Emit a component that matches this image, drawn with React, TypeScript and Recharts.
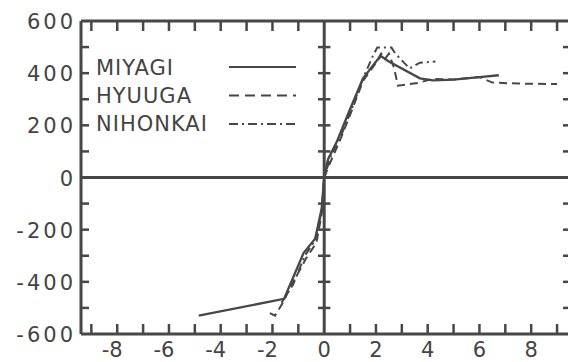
import React from 'react';
import { LineChart, Line, XAxis, YAxis, ReferenceLine } from 'recharts';

const FONT = '"DejaVu Sans", sans-serif';
const INK = '#474747';

// axis ticks
const xTicks = [-9, -8, -7, -6, -5, -4, -3, -2, -1, 0, 1, 2, 3, 4, 5, 6, 7, 8, 9];
const xLabels = [-8, -6, -4, -2, 0, 2, 4, 6, 8];
const yTicks = [-600, -500, -400, -300, -200, -100, 0, 100, 200, 300, 400, 500, 600];
const yLabels = [-600, -400, -200, 0, 200, 400, 600];

// series
const miyagi = [
  { x: -4.85, y: -530 }, { x: -1.55, y: -465 }, { x: -0.8, y: -290 }, { x: -0.35, y: -235 },
  { x: -0.1, y: -120 }, { x: 0, y: 0 }, { x: 0.15, y: 70 }, { x: 0.5, y: 140 },
  { x: 0.95, y: 250 }, { x: 1.5, y: 380 }, { x: 2.05, y: 450 }, { x: 2.2, y: 465 },
  { x: 2.5, y: 445 }, { x: 3.7, y: 380 }, { x: 4.2, y: 372 }, { x: 5.0, y: 375 },
  { x: 6.0, y: 385 }, { x: 6.75, y: 392 },
];

const hyuuga = [
  { x: -2.1, y: -520 }, { x: -1.9, y: -530 }, { x: -1.6, y: -480 }, { x: -1.3, y: -420 },
  { x: -0.7, y: -310 }, { x: -0.3, y: -250 }, { x: -0.08, y: -130 }, { x: 0, y: 0 },
  { x: 0.2, y: 50 }, { x: 0.6, y: 140 }, { x: 1.0, y: 240 }, { x: 1.5, y: 370 },
  { x: 2.0, y: 440 }, { x: 2.2, y: 475 }, { x: 2.35, y: 455 }, { x: 2.5, y: 475 },
  { x: 2.7, y: 420 }, { x: 2.85, y: 352 }, { x: 3.6, y: 362 }, { x: 4.2, y: 378 },
  { x: 5.0, y: 376 }, { x: 6.0, y: 385 }, { x: 6.5, y: 364 }, { x: 7.5, y: 360 },
  { x: 9.0, y: 358 },
];

const nihonkai = [
  { x: -1.65, y: -480 }, { x: -1.2, y: -410 }, { x: -0.75, y: -300 }, { x: -0.35, y: -240 },
  { x: -0.1, y: -130 }, { x: 0, y: 0 }, { x: 0.25, y: 80 }, { x: 0.65, y: 160 },
  { x: 1.05, y: 260 }, { x: 1.5, y: 380 }, { x: 1.9, y: 470 }, { x: 2.05, y: 498 },
  { x: 2.6, y: 498 }, { x: 2.75, y: 475 }, { x: 3.3, y: 418 }, { x: 3.7, y: 440 },
  { x: 4.3, y: 445 },
];

const legendItems = [
  { name: 'MIYAGI', dash: undefined },
  { name: 'HYUUGA', dash: '10 6' },
  { name: 'NIHONKAI', dash: '9 4 2 4' },
];

const textStyle = { fontFamily: FONT, fontSize: 21, fill: '#444', letterSpacing: 3 };

const BottomTick = (props: any) => {
  const { x, y, payload } = props;
  const v = payload.value;
  return (
    <g>
      {v !== 0 && <line x1={x} x2={x} y1={y} y2={y - 10} stroke={INK} strokeWidth={2.5} />}
      {xLabels.includes(v) && (
        <text x={x} y={y + 23} dx={v < 0 ? -5 : 0} textAnchor="middle" style={{ ...textStyle, letterSpacing: 0 }}>
          {v < 0 ? `-${-v}` : v}
        </text>
      )}
    </g>
  );
};

const TopTick = (props: any) => {
  const { x, y, payload } = props;
  if (payload.value === 0) return <g />;
  return <line x1={x} x2={x} y1={y} y2={y + 10} stroke={INK} strokeWidth={2.5} />;
};

const LeftTick = (props: any) => {
  const { x, y, payload } = props;
  const v = payload.value;
  return (
    <g>
      {Math.abs(v) !== 600 && v !== 0 && <line x1={x} x2={x + 8} y1={y} y2={y} stroke={INK} strokeWidth={2.5} />}
      {yLabels.includes(v) && (
        <text x={x - 5} y={y + 8} textAnchor="end" style={textStyle}>
          {v < 0 ? `-${-v}` : v}
        </text>
      )}
    </g>
  );
};

const RightTick = (props: any) => {
  const { x, y, payload } = props;
  if (Math.abs(payload.value) === 600 || payload.value === 0) return <g />;
  return <line x1={x} x2={x - 7} y1={y} y2={y} stroke={INK} strokeWidth={2.5} />;
};

const Legend = () => (
  <svg width={568} height={362} style={{ position: 'absolute', left: 0, top: 0, pointerEvents: 'none' }}>
    {legendItems.map((it, i) => (
      <g key={it.name}>
        <text x={96} y={75 + i * 28} style={{ ...textStyle, letterSpacing: 1 }}>
          {it.name}
        </text>
        <line
          x1={229}
          x2={296}
          y1={67 + i * 28.5}
          y2={67 + i * 28.5}
          stroke={INK}
          strokeWidth={2.2}
          strokeDasharray={it.dash}
        />
      </g>
    ))}
  </svg>
);

export default function App() {
  return (
    <div style={{ position: 'absolute', left: 0, top: 0, width: 568, height: 362, overflow: 'hidden', background: '#fff' }}>
      <LineChart width={600} height={362} margin={{ top: 0, right: 0, bottom: 0, left: 0 }}>
        <XAxis
          xAxisId={0}
          type="number"
          dataKey="x"
          domain={[-9.4, 9.5]}
          allowDataOverflow
          ticks={xTicks}
          interval={0}
          height={28}
          tickSize={0}
          tickMargin={0}
          tickLine={false}
          tick={<BottomTick />}
          axisLine={{ stroke: INK, strokeWidth: 3 }}
        />
        <XAxis
          xAxisId="top"
          orientation="top"
          type="number"
          dataKey="x"
          domain={[-9.4, 9.5]}
          allowDataOverflow
          ticks={xTicks}
          interval={0}
          height={21}
          tickSize={0}
          tickMargin={0}
          tickLine={false}
          tick={<TopTick />}
          axisLine={{ stroke: INK, strokeWidth: 3 }}
        />
        <YAxis
          yAxisId={0}
          type="number"
          domain={[-600, 600]}
          allowDataOverflow
          ticks={yTicks}
          interval={0}
          width={81}
          tickSize={0}
          tickMargin={0}
          tickLine={false}
          tick={<LeftTick />}
          axisLine={{ stroke: INK, strokeWidth: 3 }}
        />
        <YAxis
          yAxisId="right"
          orientation="right"
          type="number"
          domain={[-600, 600]}
          allowDataOverflow
          ticks={yTicks}
          interval={0}
          width={30}
          tickSize={0}
          tickMargin={0}
          tickLine={false}
          tick={<RightTick />}
          axisLine={{ stroke: INK, strokeWidth: 3 }}
        />
        <ReferenceLine x={0} stroke={INK} strokeWidth={3} />
        <ReferenceLine y={0} stroke={INK} strokeWidth={3} />
        {yTicks
          .filter((v) => v !== 0 && Math.abs(v) !== 600)
          .map((v) => (
            <ReferenceLine
              key={v}
              segment={[{ x: -0.24, y: v }, { x: 0.24, y: v }]}
              stroke={INK}
              strokeWidth={2.5}
            />
          ))}
        <Line data={miyagi} dataKey="y" type="linear" stroke={INK} strokeWidth={2.3} dot={false} isAnimationActive={false} />
        <Line data={hyuuga} dataKey="y" type="linear" stroke={INK} strokeWidth={2} strokeDasharray="8 5" dot={false} isAnimationActive={false} />
        <Line data={nihonkai} dataKey="y" type="linear" stroke={INK} strokeWidth={2} strokeDasharray="8 4 2 4" dot={false} isAnimationActive={false} />
      </LineChart>
      <Legend />
    </div>
  );
}
